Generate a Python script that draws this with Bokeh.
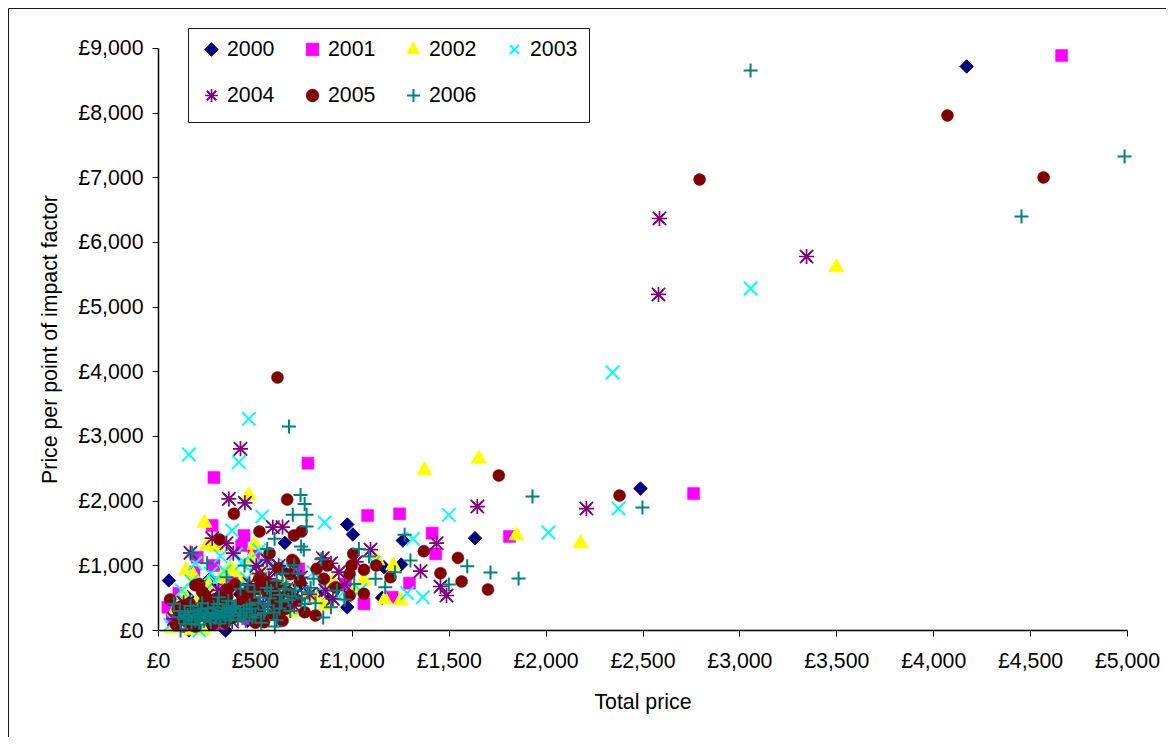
from bokeh.plotting import figure
from bokeh.embed import file_html
from bokeh.resources import INLINE
from bokeh.models import Range1d, FixedTicker, BoxAnnotation, Legend, LegendItem

years = ["2000", "2001", "2002", "2003", "2004", "2005", "2006"]
x_ticks = [0, 500, 1000, 1500, 2000, 2500, 3000, 3500, 4000, 4500, 5000]
x_tick_labels = ["£0", "£500", "£1,000", "£1,500", "£2,000", "£2,500", "£3,000", "£3,500", "£4,000", "£4,500", "£5,000"]
y_ticks = [0, 1000, 2000, 3000, 4000, 5000, 6000, 7000, 8000, 9000]
y_tick_labels = ["£0", "£1,000", "£2,000", "£3,000", "£4,000", "£5,000", "£6,000", "£7,000", "£8,000", "£9,000"]

x_2000 = [4170, 2487, 974, 1003, 652, 1261, 1633, 1252, 54, 265, 1163, 974, 1154, 346, 157, 660, 700, 300, 120, 180, 230, 420, 510, 600, 560, 460, 360, 250, 150, 90, 640, 730, 820, 880]
y_2000 = [8721, 2196, 1639, 1484, 1355, 1391, 1427, 1020, 773, 799, 979, 360, 505, 0, 0, 930, 620, 740, 260, 120, 380, 560, 300, 430, 760, 150, 420, 60, 520, 200, 300, 700, 560, 470]

x_2001 = [4660, 2761, 1811, 771, 286, 1079, 1244, 1412, 1430, 1295, 1206, 1060, 441, 429, 277, 200, 286, 183, 105, 48, 724, 965, 492, 600, 540, 380, 330, 240, 160, 80, 130, 620, 700, 410, 460, 310, 70, 110, 150]
y_2001 = [8891, 2118, 1454, 2587, 2365, 1778, 1804, 1505, 1185, 732, 515, 412, 1469, 1314, 1623, 1133, 1005, 902, 577, 360, 953, 721, 1185, 520, 860, 780, 620, 470, 280, 200, 120, 640, 430, 340, 180, 90, 210, 330, 60]

x_2002 = [3498, 2178, 1847, 1653, 1373, 466, 238, 496, 1211, 1060, 1168, 1249, 143, 372, 320, 1129, 699, 1010, 900, 760, 640, 590, 540, 470, 420, 350, 290, 260, 200, 150, 110, 70, 230, 170, 90, 560, 680, 810, 860, 250, 300, 340, 390, 440, 510, 610, 180, 130, 480, 720]
y_2002 = [5613, 1345, 1469, 2654, 2474, 2087, 1664, 1324, 1005, 773, 479, 463, 927, 953, 799, 1082, 283, 620, 760, 540, 700, 430, 880, 610, 300, 520, 380, 700, 450, 240, 120, 30, 0, 0, 330, 230, 610, 520, 390, 1310, 1290, 880, 900, 770, 820, 660, 850, 560, 1120, 410]

x_2003 = [3055, 2343, 2374, 2012, 466, 157, 415, 535, 857, 380, 1498, 1313, 1283, 1364, 1110, 1040, 930, 800, 740, 640, 560, 500, 455, 400, 340, 290, 240, 190, 140, 100, 60, 210, 480, 610, 690, 850, 520, 580, 430, 320, 270, 170, 120, 80, 660, 730]
y_2003 = [5288, 3989, 1886, 1515, 3272, 2721, 2603, 1762, 1670, 1546, 1788, 1417, 577, 515, 1050, 620, 520, 900, 350, 660, 1120, 1030, 800, 1180, 920, 760, 610, 1040, 440, 260, 90, 0, 240, 450, 560, 700, 1240, 960, 1040, 1150, 880, 760, 620, 150, 1000, 720]

x_2004 = [2585, 2580, 3344, 2208, 423, 363, 446, 590, 277, 351, 165, 386, 1435, 1645, 1094, 848, 1352, 931, 1455, 1486, 600, 570, 620, 520, 470, 660, 735, 780, 860, 900, 960, 310, 250, 210, 130, 80, 430, 540, 380, 700, 560, 505, 640, 1020, 890]
y_2004 = [6371, 5196, 5783, 1886, 2809, 2035, 1974, 1597, 1427, 1350, 1200, 1195, 1350, 1917, 1252, 1118, 917, 902, 680, 541, 950, 800, 1000, 880, 720, 640, 820, 560, 620, 490, 710, 620, 540, 340, 430, 180, 280, 420, 140, 380, 1090, 1000, 1600, 1060, 1040]

x_2005 = [4071, 2792, 4567, 614, 2379, 1756, 664, 389, 521, 699, 738, 315, 1369, 1545, 1005, 996, 1060, 986, 1123, 1197, 1455, 1564, 1700, 1060, 573, 690, 816, 871, 853, 913, 986, 754, 810, 544, 60, 100, 130, 160, 190, 210, 240, 270, 300, 330, 360, 395, 430, 460, 490, 520, 560, 590, 620, 650, 680, 700, 730, 590, 640, 500, 420, 280, 370, 470, 190, 90, 140, 350,
          115, 145, 175, 205, 235, 265, 295, 325, 355, 385, 415, 445, 475, 505, 535, 565, 595, 625, 225, 255, 285, 345, 405, 455, 515, 610, 660, 175, 120, 330, 620, 670, 710]
y_2005 = [7964, 6974, 7005, 3912, 2087, 2396, 2025, 1804, 1530, 1469, 1530, 1407, 1226, 1123, 1185, 1005, 938, 876, 1005, 824, 886, 757, 634, 567, 1195, 1092, 953, 1005, 799, 670, 541, 283, 232, 129, 480, 330, 180, 420, 700, 720, 550, 310, 190, 420, 640, 710, 560, 320, 440, 800, 740, 250, 520, 400, 870, 1060, 760, 610, 150, 120, 230, 100, 340, 640, 60, 90, 280, 160,
          260, 140, 330, 220, 430, 170, 370, 260, 520, 200, 410, 240, 590, 330, 180, 560, 420, 300, 600, 280, 480, 120, 330, 460, 640, 700, 340, 80, 380, 540, 960, 590, 480]

x_2006 = [3055, 4985, 4453, 2497, 1930, 1713, 1858, 673, 733, 754, 693, 764, 764, 599, 561, 736, 750, 1270, 1034, 1086, 1300, 1593, 1498, 79, 131, 114, 157, 217, 251, 174, 351, 444, 423, 312, 110, 140, 165, 190, 205, 225, 240, 255, 270, 290, 305, 320, 340, 360, 375, 390, 410, 440, 470, 500, 525, 550, 580, 610, 635, 660, 690, 720, 770, 810, 850, 890, 920, 960, 1120, 1170, 1220, 600, 530, 480, 680, 1010, 700, 840,
          150, 180, 200, 220, 245, 265, 285, 300, 330, 350, 365, 385, 400, 425, 455, 485, 515, 565, 595, 625, 650, 105, 135, 170, 210, 235, 280, 315, 345, 380, 420, 450, 545, 575, 495, 460, 625, 740, 785, 670, 705, 640, 610, 755, 800, 560]
y_2006 = [8659, 7330, 6402, 1902, 2072, 897, 804, 3154, 2097, 1958, 1788, 1788, 1608, 1417, 1262, 1298, 1247, 1479, 1262, 1144, 1082, 994, 711, 412, 180, 0, 206, 257, 1041, 1195, 824, 1005, 644, 515, 300, 100, 380, 160, 290, 420, 220, 340, 130, 260, 410, 190, 300, 460, 230, 350, 170, 280, 400, 240, 510, 320, 610, 160, 450, 720, 530, 880, 590, 420, 200, 360, 620, 480, 800, 670, 900, 60, 120, 340, 300, 720, 1010, 1100,
          240, 300, 200, 330, 250, 180, 360, 230, 290, 340, 160, 270, 380, 230, 330, 200, 430, 390, 280, 550, 640, 210, 280, 110, 90, 150, 270, 110, 210, 330, 280, 150, 270, 500, 600, 700, 340, 500, 660, 470, 620, 880, 770, 410, 800, 660]

W, H = 1166, 737
X0, Y0 = 158, 630
PX_X = 0.1938
PX_Y = 0.06467

p = figure(width=W, height=H, output_backend="svg", toolbar_location=None,
           x_range=Range1d(-X0 / PX_X, (W - X0) / PX_X),
           y_range=Range1d((Y0 - H) / PX_Y, Y0 / PX_Y),
           min_border=0, background_fill_color="white", border_fill_color="white")
p.outline_line_color = None
p.grid.visible = False

p.add_layout(BoxAnnotation(left=8, right=3000, top=H - 8, bottom=-3000,
                           left_units="screen", right_units="screen", top_units="screen", bottom_units="screen",
                           fill_alpha=0, line_color="black", line_alpha=0.9, line_width=1, level="underlay"))
p.add_layout(BoxAnnotation(left=188, right=589, top=H - 28, bottom=H - 122,
                           left_units="screen", right_units="screen", top_units="screen", bottom_units="screen",
                           fill_color="white", fill_alpha=1, line_color="black", line_alpha=0.9, line_width=1, level="underlay"))

r0 = p.scatter(x_2000, y_2000, marker="square", angle=0.7854, size=9.5, fill_color="#000080", line_color="#000080", line_width=1)
r1 = p.scatter(x_2001, y_2001, marker="square", size=12, fill_color="#ff00ff", line_color="#ff00ff", line_width=0.5)
r2 = p.scatter(x_2002, y_2002, marker="triangle", size=15, fill_color="#ffff00", line_color="#ffff00", line_width=1)
r3 = p.scatter(x_2003, y_2003, marker="x", size=19, line_color="#00ffff", line_width=2)
r4 = p.scatter(x_2004, y_2004, marker="asterisk", size=15, line_color="#800080", line_width=1.7)
r4b = p.scatter(x_2004, y_2004, marker="x", size=19, line_color="#800080", line_width=1.7)
r5 = p.scatter(x_2005, y_2005, marker="circle", size=12, fill_color="#800000", line_color="#800000", line_width=0.5)
r6 = p.scatter(x_2006, y_2006, marker="cross", size=14, line_color="#008080", line_width=2)
key0 = p.scatter([], [], marker="diamond", size=12, fill_color="#000080", line_color="#000080")
# the legend cannot rotate a key, so the diamond key is widened by one mark of the same shape as the series
p.scatter([(211 - X0) / PX_X], [(Y0 - 49) / PX_Y], marker="square", angle=0.7854, size=9.5,
          fill_color="#000080", line_color="#000080", line_width=1)

for ax, ticks, labels, title in [(p.xaxis[0], x_ticks, x_tick_labels, "Total price"),
                                 (p.yaxis[0], y_ticks, y_tick_labels, "Price per point of impact factor")]:
    ax.ticker = FixedTicker(ticks=ticks)
    ax.major_label_overrides = dict(zip(ticks, labels))
    ax.minor_tick_line_color = None
    ax.major_tick_in = 0
    ax.major_tick_out = 6
    ax.major_tick_line_color = "black"
    ax.axis_line_color = "black"
    ax.axis_line_width = 1.5
    ax.major_label_text_font = "Liberation Sans"
    ax.major_label_text_font_size = "21.3px"
    ax.major_label_text_color = "black"
    ax.axis_label = title
    ax.axis_label_text_font = "Liberation Sans"
    ax.axis_label_text_font_size = "21.3px"
    ax.axis_label_text_font_style = "normal"
    ax.axis_label_text_color = "black"
    ax.fixed_location = 0
    ax.bounds = (0, ticks[-1])
p.xaxis[0].major_label_standoff = 12
p.xaxis[0].axis_label_standoff = 14
p.yaxis[0].major_label_standoff = 9
p.yaxis[0].axis_label_standoff = 13

legend = Legend(items=[LegendItem(label=y, renderers=r) for y, r in zip(years, [[key0], [r1], [r2], [r3], [r4, r4b], [r5], [r6]])],
                ncols=4, location=(189, H - 27 - 90), orientation="horizontal",
                glyph_width=32, glyph_height=32, label_standoff=0, label_width=55, spacing=14,
                padding=6, margin=0, border_line_alpha=0, background_fill_alpha=0,
                label_text_font="Liberation Sans", label_text_font_size="21.3px", label_text_color="black")
p.add_layout(legend, "center")

open("out.html", "w").write(file_html(p, INLINE))
